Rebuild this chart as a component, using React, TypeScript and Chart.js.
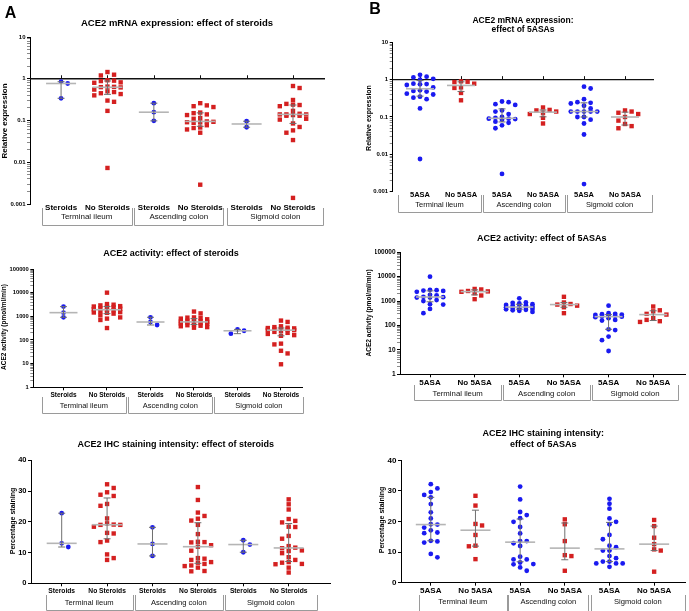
import React, { useEffect, useRef } from 'react';
import { Chart, registerables } from 'chart.js';

Chart.register(...registerables);

const FONT = "'Liberation Sans', Arial, Helvetica, sans-serif";

// ---------- labels ----------
const steroidLabels = ['Steroids', 'No Steroids', 'Steroids', 'No Steroids', 'Steroids', 'No Steroids'];
const asaLabels = ['5ASA', 'No 5ASA', '5ASA', 'No 5ASA', '5ASA', 'No 5ASA'];
const regionLabels = ['Terminal ileum', 'Ascending colon', 'Sigmoid colon'];

const titleMrnaSteroids = ['ACE2 mRNA expression: effect of steroids'];
const titleMrnaAsa = ['ACE2 mRNA expression:', 'effect of 5ASAs'];
const titleActSteroids = ['ACE2 activity: effect of steroids'];
const titleActAsa = ['ACE2 activity: effect of 5ASAs'];
const titleIhcSteroids = ['ACE2 IHC staining intensity: effect of steroids'];
const titleIhcAsa = ['ACE2 IHC staining intensity:', 'effect of 5ASAs'];

const yLabelMrna = 'Relative expression';
const yLabelAct = 'ACE2 activity (pmol/ml/min)';
const yLabelIhc = 'Percentage staining';

// ---------- mRNA, steroids ----------
const mrnaStTI_S = [0.85, 0.77, 0.34];
const mrnaStTI_N = [1.45, 1.25, 1.2, 0.92, 0.9, 0.88, 0.82, 0.8, 0.65, 0.64, 0.63, 0.62, 0.55, 0.5, 0.48, 0.45, 0.43, 0.4, 0.3, 0.28, 0.17, 0.0073];
const mrnaStAC_S = [0.26, 0.158, 0.098];
const mrnaStAC_N = [0.26, 0.23, 0.22, 0.21, 0.155, 0.15, 0.14, 0.135, 0.115, 0.11, 0.095, 0.093, 0.091, 0.09, 0.088, 0.077, 0.068, 0.066, 0.061, 0.051, 0.0029];
const mrnaStSC_S = [0.096, 0.069];
const mrnaStSC_N = [0.67, 0.6, 0.31, 0.25, 0.24, 0.235, 0.22, 0.17, 0.145, 0.14, 0.14, 0.14, 0.135, 0.13, 0.13, 0.11, 0.105, 0.085, 0.07, 0.058, 0.051, 0.034, 0.0014];

// ---------- mRNA, 5ASA ----------
const mrnaAsaTI_Y = [1.35, 1.2, 1.15, 1.05, 1.0, 0.78, 0.76, 0.75, 0.72, 0.62, 0.52, 0.5, 0.48, 0.42, 0.4, 0.35, 0.33, 0.3, 0.17, 0.0075];
const mrnaAsaTI_N = [0.9, 0.88, 0.86, 0.78, 0.62, 0.6, 0.44, 0.28];
const mrnaAsaAC_Y = [0.26, 0.25, 0.22, 0.21, 0.15, 0.14, 0.12, 0.1, 0.095, 0.09, 0.09, 0.088, 0.085, 0.075, 0.07, 0.06, 0.05, 0.003];
const mrnaAsaAC_N = [0.18, 0.155, 0.15, 0.14, 0.13, 0.12, 0.095, 0.067];
const mrnaAsaSC_Y = [0.65, 0.58, 0.3, 0.25, 0.24, 0.23, 0.2, 0.17, 0.14, 0.14, 0.14, 0.14, 0.14, 0.1, 0.1, 0.085, 0.067, 0.034, 0.0016];
const mrnaAsaSC_N = [0.15, 0.14, 0.13, 0.12, 0.1, 0.08, 0.065, 0.057, 0.05];

// ---------- activity, steroids ----------
const actStTI_S = [2570, 1430, 910];
const actStTI_N = [10000, 3300, 3100, 2900, 2700, 2600, 2500, 2400, 2200, 2100, 2000, 1900, 1800, 1600, 1500, 1450, 1400, 1300, 1100, 900, 800, 700, 320];
const actStAC_S = [910, 575, 430];
const actStAC_N = [1590, 1330, 900, 880, 850, 800, 750, 700, 650, 620, 600, 580, 560, 540, 520, 500, 480, 450, 420, 400, 380, 350, 330];
const actStSC_S = [280, 245, 185];
const actStSC_N = [660, 580, 380, 350, 330, 320, 310, 300, 290, 280, 270, 260, 240, 220, 200, 180, 160, 150, 70, 65, 35, 27, 9.4];

// ---------- activity, 5ASA ----------
const actAsaTI_Y = [10000, 2900, 2800, 2700, 2600, 2400, 1800, 1700, 1500, 1450, 1400, 1400, 1100, 1000, 750, 720, 480, 320];
const actAsaTI_N = [3150, 3000, 2600, 2500, 2400, 2100, 1700, 1200];
const actAsaAC_Y = [1300, 880, 850, 800, 750, 700, 680, 650, 600, 580, 560, 550, 520, 500, 480, 460, 440, 420, 400, 360];
const actAsaAC_N = [1500, 880, 760, 720, 650, 560, 320];
const actAsaSC_Y = [650, 320, 300, 290, 280, 270, 260, 250, 240, 230, 220, 200, 170, 160, 70, 65, 35, 25, 9];
const actAsaSC_N = [600, 420, 380, 300, 280, 200, 170, 150, 140];

// ---------- IHC, steroids ----------
const ihcStTI_S = [22.8, 13.0, 11.8];
const ihcStTI_N = [32.2, 31.0, 29.6, 28.8, 28.4, 25.8, 25.2, 21.1, 19.5, 19.1, 19.0, 19.0, 18.4, 16.4, 16.2, 13.9, 13.4, 9.4, 8.2, 7.6];
const ihcStAC_S = [18.2, 12.8, 8.9];
const ihcStAC_N = [31.3, 27.1, 23.0, 21.9, 21.0, 20.4, 19.0, 16.0, 13.5, 13.4, 13.3, 12.4, 11.9, 10.6, 8.2, 8.0, 7.6, 6.9, 6.7, 6.3, 5.8, 5.6, 5.1, 4.0, 3.9];
const ihcStSC_S = [14.0, 12.6, 10.1];
const ihcStSC_N = [27.3, 25.7, 24.0, 20.9, 20.3, 19.8, 18.4, 18.3, 15.4, 14.5, 12.1, 11.6, 11.4, 10.7, 10.5, 9.8, 8.5, 7.6, 6.9, 6.7, 6.3, 6.2, 5.1, 3.5];

// ---------- IHC, 5ASA ----------
const ihcAsaTI_Y = [32.2, 30.8, 29.6, 28.7, 27.9, 25.7, 23.0, 21.0, 19.1, 19.0, 18.0, 17.1, 16.4, 16.2, 13.7, 13.5, 13.1, 9.4, 8.3];
const ihcAsaTI_N = [28.4, 25.2, 19.2, 18.7, 15.6, 12.1, 11.9, 7.7];
const ihcAsaAC_Y = [31.4, 27.2, 23.1, 22.1, 21.1, 19.9, 18.2, 16.1, 13.6, 13.6, 12.9, 12.0, 8.5, 7.6, 7.6, 6.6, 6.1, 6.0, 5.0, 3.9];
const ihcAsaAC_N = [20.7, 19.1, 13.6, 9.0, 8.7, 3.9];
const ihcAsaSC_Y = [27.4, 25.8, 24.2, 21.0, 19.9, 19.1, 15.6, 14.2, 12.1, 11.6, 10.5, 10.5, 8.7, 8.0, 6.9, 6.9, 6.3, 6.3, 6.3, 5.2];
const ihcAsaSC_N = [20.5, 18.5, 14.7, 12.6, 10.9, 10.5, 3.6];

const linearTicks = [0, 10, 20, 30, 40];

// ---------- styles ----------
const BLUE = '#1a1af0';
const RED = '#d42020';
const MEDIAN_COLOR = '#b5b5b5';
const WHISKER_COLOR = '#6f6f6f';
const BOX_COLOR = '#9a9a9a';

type Panel = {
  groups: number[][];
  labels: string[];
  log: boolean;
  yMin: number;
  yMax: number;
  area: { l: number; t: number; r: number; b: number };
  xMin: number;
  xMax: number;
  title: string[];
  titleX: number;
  titleY: number[];
  titleSize: number;
  yTitle: string;
  yTitleX: number;
  yTitleY: number;
  yTitleSize: number;
  tickSize: number;
  catSize: number;
  catY: number;
  boxes: [number, number][];
  boxTop: number;
  boxBottom: number;
  boxTextY: number;
  boxSize: number;
  refLine?: boolean;
  letter?: { text: string; x: number; y: number };
  medianHalf: number;
};

const W = 689;
const H = 611;
const Y_AXIS_W = 25;
const X_AXIS_H = 20;

const panels: Panel[] = [
  {
    groups: [mrnaStTI_S, mrnaStTI_N, mrnaStAC_S, mrnaStAC_N, mrnaStSC_S, mrnaStSC_N],
    labels: steroidLabels, log: true, yMin: 0.001, yMax: 10,
    area: { l: 30, t: 37, r: 325, b: 204 }, xMin: 0.33, xMax: 6.69,
    title: titleMrnaSteroids, titleX: 177, titleY: [23.7], titleSize: 9.5,
    yTitle: yLabelMrna, yTitleX: 4.5, yTitleY: 121, yTitleSize: 8,
    tickSize: 6, catSize: 8, catY: 205,
    boxes: [[41.7, 131.7], [134.3, 223.3], [227.3, 323.3]], boxTop: 208, boxBottom: 224.5, boxTextY: 217, boxSize: 8,
    refLine: true, letter: { text: 'A', x: 10.5, y: 14 }, medianHalf: 15,
  },
  {
    groups: [mrnaAsaTI_Y, mrnaAsaTI_N, mrnaAsaAC_Y, mrnaAsaAC_N, mrnaAsaSC_Y, mrnaAsaSC_N],
    labels: asaLabels, log: true, yMin: 0.001, yMax: 10,
    area: { l: 392.7, t: 42.3, r: 654, b: 191.7 }, xMin: 0.334, xMax: 6.707,
    title: titleMrnaAsa, titleX: 523, titleY: [20.7, 30], titleSize: 8.5,
    yTitle: yLabelMrna, yTitleX: 369, yTitleY: 118, yTitleSize: 7,
    tickSize: 6, catSize: 7.5, catY: 192,
    boxes: [[398, 481], [483, 565], [567, 652]], boxTop: 195, boxBottom: 211.5, boxTextY: 205, boxSize: 7.5,
    refLine: true, letter: { text: 'B', x: 375, y: 10 }, medianHalf: 14,
  },
  {
    groups: [actStTI_S, actStTI_N, actStAC_S, actStAC_N, actStSC_S, actStSC_N],
    labels: steroidLabels, log: true, yMin: 1, yMax: 100000,
    area: { l: 33.3, t: 269, r: 302, b: 387.3 }, xMin: 0.306, xMax: 6.483,
    title: titleActSteroids, titleX: 171, titleY: [254], titleSize: 9,
    yTitle: yLabelAct, yTitleX: 4.5, yTitleY: 327, yTitleSize: 6.5,
    tickSize: 5.8, catSize: 6.5, catY: 395,
    boxes: [[41.7, 126], [128.3, 212.3], [214.3, 303.3]], boxTop: 397, boxBottom: 412.7, boxTextY: 406, boxSize: 7.5,
    medianHalf: 14,
  },
  {
    groups: [actAsaTI_Y, actAsaTI_N, actAsaAC_Y, actAsaAC_N, actAsaSC_Y, actAsaSC_N],
    labels: asaLabels, log: true, yMin: 1, yMax: 100000,
    area: { l: 400, t: 252.3, r: 686, b: 374.3 }, xMin: 0.328, xMax: 6.732,
    title: titleActAsa, titleX: 541.7, titleY: [239], titleSize: 9,
    yTitle: yLabelAct, yTitleX: 369, yTitleY: 313, yTitleSize: 6.6,
    tickSize: 6.5, catSize: 8, catY: 382.3,
    boxes: [[414.3, 501], [503.3, 590], [591.7, 678.3]], boxTop: 385, boxBottom: 400, boxTextY: 394, boxSize: 7.8,
    medianHalf: 14,
  },
  {
    groups: [ihcStTI_S, ihcStTI_N, ihcStAC_S, ihcStAC_N, ihcStSC_S, ihcStSC_N],
    labels: steroidLabels, log: false, yMin: 0, yMax: 40,
    area: { l: 31, t: 460.3, r: 330, b: 583.3 }, xMin: 0.324, xMax: 6.91,
    title: titleIhcSteroids, titleX: 175.8, titleY: [444.3], titleSize: 9,
    yTitle: yLabelIhc, yTitleX: 13, yTitleY: 521, yTitleSize: 7,
    tickSize: 7.5, catSize: 6.7, catY: 591,
    boxes: [[45.7, 132.7], [135, 222.7], [225, 316.7]], boxTop: 595, boxBottom: 610, boxTextY: 603.3, boxSize: 7.6,
    medianHalf: 15,
  },
  {
    groups: [ihcAsaTI_Y, ihcAsaTI_N, ihcAsaAC_Y, ihcAsaAC_N, ihcAsaSC_Y, ihcAsaSC_N],
    labels: asaLabels, log: false, yMin: 0, yMax: 40,
    area: { l: 401, t: 460.3, r: 688, b: 582.7 }, xMin: 0.333, xMax: 6.711,
    title: titleIhcAsa, titleX: 543.3, titleY: [434, 445], titleSize: 9,
    yTitle: yLabelIhc, yTitleX: 382.5, yTitleY: 520, yTitleSize: 7,
    tickSize: 8, catSize: 8, catY: 591,
    boxes: [[419, 506.7], [508.3, 588.3], [590.7, 685]], boxTop: 595, boxBottom: 611, boxTextY: 601.7, boxSize: 7.6,
    medianHalf: 15,
  },
];

// ---------- helpers ----------
const isPow10 = (v: number) => v > 0 && Math.abs(Math.log10(v) - Math.round(Math.log10(v))) < 1e-6;

function logTickValues(min: number, max: number): number[] {
  const out: number[] = [];
  const e0 = Math.round(Math.log10(min));
  const e1 = Math.round(Math.log10(max));
  for (let e = e0; e < e1; e++) {
    for (let m = 1; m <= 9; m++) out.push(Number((m * Math.pow(10, e)).toPrecision(6)));
  }
  out.push(max);
  return out;
}

function quantile(sorted: number[], p: number): number {
  const n = sorted.length;
  const pos = (n + 1) * p;
  if (pos <= 1) return sorted[0];
  if (pos >= n) return sorted[n - 1];
  const lo = Math.floor(pos);
  const frac = pos - lo;
  return sorted[lo - 1] + frac * (sorted[lo] - sorted[lo - 1]);
}

// column-based scatter layout: at most 5 columns, points in the same column need a vertical gap
function columnLayout(values: number[], ypix: (v: number) => number, step: number, dyMin: number): number[] {
  const idx = values.map((_, i) => i).sort((a, b) => ypix(values[a]) - ypix(values[b]));
  const out = new Array(values.length).fill(0);
  const cols: number[][] = [[], [], [], [], []];
  let flip = 1;
  for (const i of idx) {
    const y = ypix(values[i]);
    const order = [0, flip, -flip, 2 * flip, -2 * flip];
    let chosen = 0;
    let bestGap = -1;
    let found = false;
    for (const m of order) {
      const col = cols[m + 2];
      const gap = col.length ? Math.min(...col.map((cy) => Math.abs(cy - y))) : Infinity;
      if (gap >= dyMin) {
        chosen = m;
        found = true;
        break;
      }
      if (gap > bestGap) {
        bestGap = gap;
        chosen = m;
      }
    }
    if (found || bestGap >= 0) {
      cols[chosen + 2].push(y);
      out[i] = chosen * step;
    }
    if (chosen !== 0) flip = -flip;
  }
  return out;
}

function font(size: number, bold: boolean) {
  return `${bold ? 'bold ' : ''}${size}px ${FONT}`;
}

function makeDecor(p: Panel) {
  return {
    id: 'decor',
    beforeDatasetsDraw(chart: any) {
      if (!p.refLine) return;
      const ctx = chart.ctx;
      const ys = chart.scales.y;
      const xs = chart.scales.x;
      const y1 = ys.getPixelForValue(1);
      ctx.save();
      ctx.strokeStyle = '#111';
      ctx.lineWidth = 1.4;
      ctx.beginPath();
      ctx.moveTo(chart.chartArea.left, y1);
      ctx.lineTo(chart.chartArea.right, y1);
      ctx.stroke();
      ctx.lineWidth = 1;
      for (let k = 1; k <= 6; k++) {
        const x = Math.round(xs.getPixelForValue(k)) + 0.5;
        ctx.beginPath();
        ctx.moveTo(x, y1);
        ctx.lineTo(x, y1 - 3.5);
        ctx.stroke();
      }
      ctx.restore();
    },
    afterDatasetsDraw(chart: any) {
      const ctx = chart.ctx;
      const ys = chart.scales.y;
      const xs = chart.scales.x;
      ctx.save();
      p.groups.forEach((vals, i) => {
        const s = [...vals].sort((a, b) => a - b);
        const med = quantile(s, 0.5);
        const q1 = quantile(s, 0.25);
        const q3 = quantile(s, 0.75);
        const cx = xs.getPixelForValue(i + 1);
        const yMed = ys.getPixelForValue(med);
        const y1 = ys.getPixelForValue(q1);
        const y3 = ys.getPixelForValue(q3);
        ctx.strokeStyle = MEDIAN_COLOR;
        ctx.lineWidth = 1.6;
        ctx.beginPath();
        ctx.moveTo(cx - p.medianHalf, yMed);
        ctx.lineTo(cx + p.medianHalf, yMed);
        ctx.stroke();
        ctx.strokeStyle = WHISKER_COLOR;
        ctx.lineWidth = 1;
        ctx.beginPath();
        ctx.moveTo(cx, y1);
        ctx.lineTo(cx, y3);
        ctx.moveTo(cx - 3.5, y1);
        ctx.lineTo(cx + 3.5, y1);
        ctx.moveTo(cx - 3.5, y3);
        ctx.lineTo(cx + 3.5, y3);
        ctx.stroke();
      });
      ctx.restore();
    },
    afterDraw(chart: any) {
      const ctx = chart.ctx;
      ctx.save();
      ctx.fillStyle = '#000';
      ctx.textAlign = 'center';
      ctx.textBaseline = 'middle';
      ctx.font = font(p.titleSize, true);
      p.title.forEach((line, i) => ctx.fillText(line, p.titleX, p.titleY[i]));
      if (p.letter) {
        ctx.font = font(16, true);
        ctx.fillText(p.letter.text, p.letter.x, p.letter.y);
      }
      ctx.save();
      ctx.translate(p.yTitleX, p.yTitleY);
      ctx.rotate(-Math.PI / 2);
      ctx.font = font(p.yTitleSize, true);
      ctx.fillText(p.yTitle, 0, 0);
      ctx.restore();
      ctx.strokeStyle = BOX_COLOR;
      ctx.lineWidth = 1;
      p.boxes.forEach(([x0, x1], i) => {
        const a = Math.round(x0) + 0.5;
        const b = Math.round(x1) + 0.5;
        const yb = Math.round(p.boxBottom) + 0.5;
        ctx.beginPath();
        ctx.moveTo(a, p.boxTop);
        ctx.lineTo(a, yb);
        ctx.lineTo(b, yb);
        ctx.lineTo(b, p.boxTop);
        ctx.stroke();
        ctx.fillStyle = '#111';
        ctx.font = font(p.boxSize, false);
        ctx.fillText(regionLabels[i], (x0 + x1) / 2, p.boxTextY);
      });
      ctx.restore();
    },
  };
}

function buildConfig(p: Panel): any {
  const tl = p.refLine ? 0 : 3;
  const xPad = p.catY - p.area.b - tl - 0.6 * p.catSize;
  const datasets = p.groups.map((vals, i) => ({
    label: p.labels[i],
    data: vals.map((v) => ({ x: i + 1, y: v })),
    pointStyle: i % 2 === 0 ? 'circle' : 'rect',
    pointRadius: i % 2 === 0 ? 2.4 : 3.1,
    pointHoverRadius: i % 2 === 0 ? 2.4 : 3.1,
    backgroundColor: i % 2 === 0 ? BLUE : RED,
    borderWidth: 0,
    showLine: false,
    clip: false,
  }));
  return {
    type: 'scatter',
    data: { datasets },
    options: {
      responsive: false,
      animation: false,
      devicePixelRatio: 1,
      events: [],
      layout: {
        padding: {
          left: p.area.l - Y_AXIS_W,
          top: p.area.t,
          right: W - p.area.r,
          bottom: H - p.area.b - X_AXIS_H,
        },
      },
      plugins: { legend: { display: false }, tooltip: { enabled: false }, title: { display: false } },
      scales: {
        x: {
          type: 'linear',
          min: p.xMin,
          max: p.xMax,
          afterBuildTicks: (s: any) => {
            s.ticks = [1, 2, 3, 4, 5, 6].map((v) => ({ value: v }));
          },
          afterFit: (s: any) => {
            s.height = X_AXIS_H;
          },
          grid: { display: !p.refLine, drawOnChartArea: false, drawTicks: true, tickLength: 3, tickColor: '#000', tickWidth: 1 },
          border: { display: !p.refLine, color: '#000', width: 1 },
          ticks: {
            autoSkip: false,
            maxRotation: 0,
            minRotation: 0,
            padding: xPad,
            color: '#000',
            font: { size: p.catSize, weight: 'bold', family: FONT },
            callback: (v: number) => p.labels[Math.round(v) - 1] ?? '',
          },
        },
        y: {
          type: p.log ? 'logarithmic' : 'linear',
          min: p.yMin,
          max: p.yMax,
          afterBuildTicks: (s: any) => {
            const vals = p.log ? logTickValues(p.yMin, p.yMax) : linearTicks;
            s.ticks = vals.map((v) => ({ value: v, major: p.log ? isPow10(v) : true }));
          },
          afterFit: (s: any) => {
            s.width = Y_AXIS_W;
          },
          grid: {
            display: true,
            drawOnChartArea: false,
            drawTicks: true,
            tickLength: 3,
            tickWidth: 1,
            tickColor: (c: any) => (!p.log || (c.tick && isPow10(c.tick.value)) ? '#000' : '#8a8a8a'),
          },
          border: { display: true, color: '#000', width: 1 },
          ticks: {
            autoSkip: false,
            padding: 1.5,
            color: '#000',
            font: { size: p.tickSize, weight: 'bold', family: FONT },
            callback: (v: number) => (p.log ? (isPow10(v) ? String(v) : '') : String(v)),
          },
        },
      },
    },
    plugins: [makeDecor(p)],
  };
}

function PanelChart({ p }: { p: Panel }) {
  const ref = useRef<HTMLCanvasElement>(null);
  useEffect(() => {
    if (!ref.current) return;
    const chart = new Chart(ref.current, buildConfig(p));
    const xs: any = chart.scales.x;
    const ys: any = chart.scales.y;
    const ppu = xs.getPixelForValue(2) - xs.getPixelForValue(1);
    chart.data.datasets.forEach((ds: any, i: number) => {
      const vals = p.groups[i];
      const off = columnLayout(vals, (v) => ys.getPixelForValue(v), 6.6, 4.6);
      ds.data = vals.map((v, j) => ({ x: i + 1 + off[j] / ppu, y: v }));
    });
    chart.update('none');
    return () => chart.destroy();
  }, [p]);
  return (
    <canvas
      ref={ref}
      width={W}
      height={H}
      style={{ position: 'absolute', left: 0, top: 0, width: W, height: H }}
    />
  );
}

export default function App() {
  return (
    <div style={{ position: 'absolute', left: 0, top: 0, width: W, height: H, background: '#fff', overflow: 'hidden' }}>
      {panels.map((p, i) => (
        <PanelChart key={i} p={p} />
      ))}
    </div>
  );
}
